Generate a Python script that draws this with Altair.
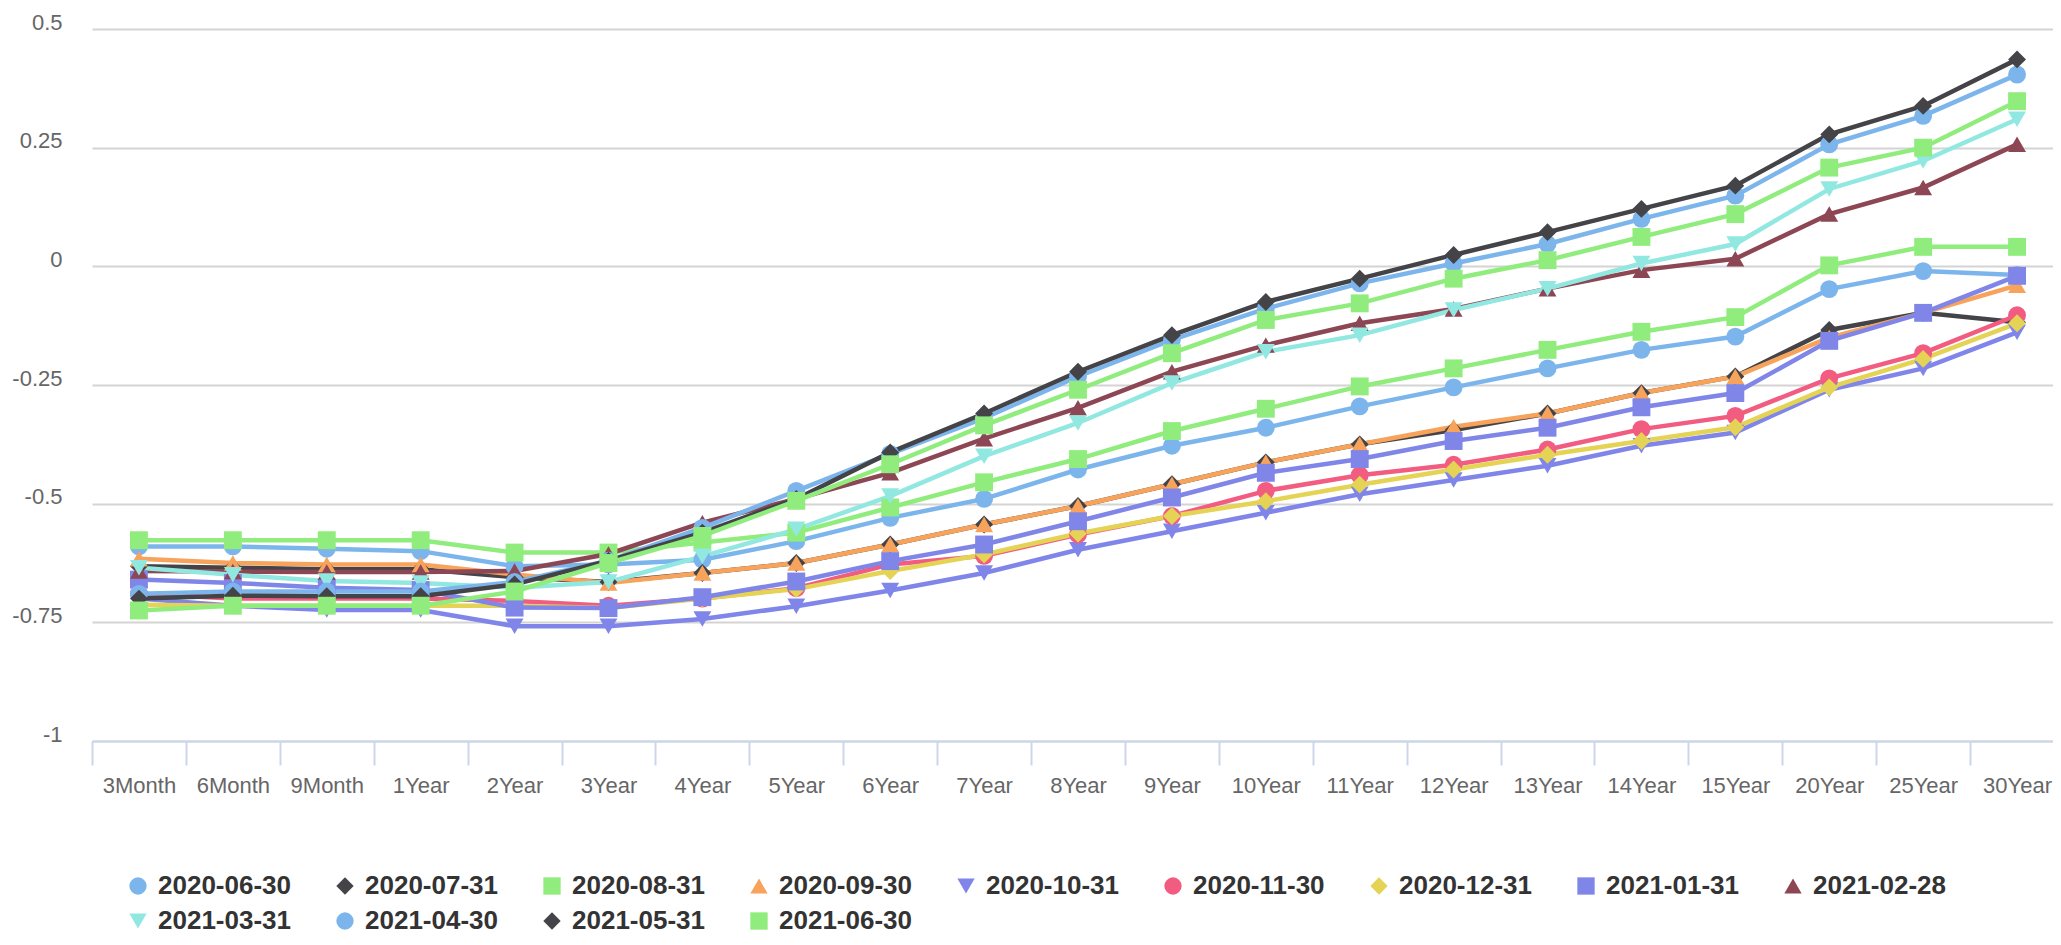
import altair as alt
import pandas as pd

tenors = ["3Month", "6Month", "9Month", "1Year", "2Year", "3Year", "4Year", "5Year",
          "6Year", "7Year", "8Year", "9Year", "10Year", "11Year", "12Year", "13Year",
          "14Year", "15Year", "20Year", "25Year", "30Year"]

dates = ["2020-06-30", "2020-07-31", "2020-08-31", "2020-09-30", "2020-10-31",
         "2020-11-30", "2020-12-31", "2021-01-31", "2021-02-28", "2021-03-31",
         "2021-04-30", "2021-05-31", "2021-06-30"]

colors = ["#7cb5ec", "#434348", "#90ed7d", "#f7a35c", "#8085e9", "#f15c80", "#e4d354",
          "#8085e8", "#8d4653", "#91e8e1", "#7cb5ec", "#434348", "#90ed7d"]

shapes = ["circle", "diamond", "square", "triangle-up", "triangle-down",
          "circle", "diamond", "square", "triangle-up", "triangle-down",
          "circle", "diamond", "square"]

y_2020_06_30 = [-0.59, -0.59, -0.595, -0.60, -0.632, -0.628, -0.618, -0.579, -0.53, -0.49,
                -0.428, -0.378, -0.34, -0.295, -0.255, -0.215, -0.176, -0.148, -0.048, -0.01, -0.018]
y_2020_07_31 = [-0.632, -0.635, -0.638, -0.638, -0.655, -0.665, -0.646, -0.625, -0.586, -0.544,
                -0.505, -0.459, -0.413, -0.375, -0.345, -0.31, -0.267, -0.232, -0.134, -0.098, -0.118]
y_2020_08_31 = [-0.577, -0.577, -0.577, -0.577, -0.603, -0.603, -0.582, -0.561, -0.508, -0.455,
                -0.406, -0.347, -0.30, -0.253, -0.215, -0.176, -0.138, -0.107, 0.002, 0.041, 0.041]
y_2020_09_30 = [-0.616, -0.625, -0.628, -0.628, -0.649, -0.667, -0.646, -0.625, -0.586, -0.544,
                -0.505, -0.459, -0.413, -0.375, -0.338, -0.31, -0.267, -0.232, -0.15, -0.098, -0.04]
y_2020_10_31 = [-0.70, -0.715, -0.724, -0.724, -0.758, -0.758, -0.743, -0.716, -0.683, -0.646,
                -0.597, -0.558, -0.519, -0.48, -0.45, -0.42, -0.378, -0.35, -0.26, -0.215, -0.139]
y_2020_11_30 = [-0.69, -0.70, -0.70, -0.70, -0.705, -0.715, -0.70, -0.678, -0.628, -0.61,
                -0.565, -0.526, -0.473, -0.44, -0.418, -0.386, -0.343, -0.315, -0.236, -0.183, -0.103]
y_2020_12_31 = [-0.713, -0.715, -0.715, -0.715, -0.715, -0.72, -0.70, -0.68, -0.642, -0.607,
                -0.563, -0.526, -0.495, -0.46, -0.428, -0.397, -0.368, -0.339, -0.255, -0.195, -0.12]
y_2021_01_31 = [-0.66, -0.667, -0.677, -0.682, -0.719, -0.72, -0.697, -0.664, -0.621, -0.586,
                -0.537, -0.487, -0.435, -0.406, -0.368, -0.34, -0.297, -0.267, -0.157, -0.098, -0.02]
y_2021_02_28 = [-0.642, -0.643, -0.644, -0.644, -0.642, -0.606, -0.54, -0.49, -0.435, -0.363,
                -0.298, -0.222, -0.166, -0.12, -0.09, -0.047, -0.008, 0.016, 0.11, 0.166, 0.257]
y_2021_03_31 = [-0.635, -0.65, -0.663, -0.667, -0.677, -0.665, -0.611, -0.554, -0.484, -0.40,
                -0.33, -0.246, -0.18, -0.145, -0.092, -0.047, 0.006, 0.047, 0.163, 0.222, 0.31]
y_2021_04_30 = [-0.69, -0.685, -0.685, -0.685, -0.665, -0.62, -0.551, -0.473, -0.395, -0.32,
                -0.232, -0.155, -0.089, -0.036, 0.006, 0.047, 0.10, 0.149, 0.257, 0.317, 0.404]
y_2021_05_31 = [-0.70, -0.694, -0.695, -0.695, -0.67, -0.62, -0.561, -0.49, -0.392, -0.31,
                -0.222, -0.145, -0.075, -0.026, 0.024, 0.072, 0.121, 0.17, 0.278, 0.338, 0.436]
y_2021_06_30 = [-0.725, -0.715, -0.715, -0.715, -0.685, -0.625, -0.568, -0.494, -0.417, -0.335,
                -0.26, -0.183, -0.113, -0.078, -0.026, 0.013, 0.062, 0.11, 0.208, 0.25, 0.348]

series = [y_2020_06_30, y_2020_07_31, y_2020_08_31, y_2020_09_30, y_2020_10_31,
          y_2020_11_30, y_2020_12_31, y_2021_01_31, y_2021_02_28, y_2021_03_31,
          y_2021_04_30, y_2021_05_31, y_2021_06_30]

y_ticks = [-1, -0.75, -0.5, -0.25, 0, 0.25, 0.5]

rows = []
for d, vals in zip(dates, series):
    for t, v in zip(tenors, vals):
        rows.append({"date": d, "tenor": t, "value": v})
df = pd.DataFrame(rows)

FONT = "Liberation Sans"

x_enc = alt.X(
    "tenor:N", sort=tenors, title=None,
    scale=alt.Scale(type="band", paddingInner=0, paddingOuter=0, range=[0, 1972]),
    axis=alt.Axis(
        tickBand="extent", grid=False, labelAngle=0,
        domainColor="#ccd6eb", domainWidth=2,
        tickColor="#ccd6eb", tickWidth=2, tickSize=24,
        labelFont=FONT, labelFontSize=22, labelColor="#666666",
        labelPadding=10, labelOverlap=False,
    ),
)
y_enc = alt.Y(
    "value:Q", title=None,
    scale=alt.Scale(domain=[-1, 0.5], nice=False, zero=False),
    axis=alt.Axis(
        values=y_ticks, labelExpr="datum.value + ''",
        domain=False, ticks=False, grid=True,
        gridColor="#d4d4d4", gridWidth=2,
        labelFont=FONT, labelFontSize=22, labelColor="#666666",
        labelPadding=30, labelOffset=-7,
    ),
)
color_scale = alt.Scale(domain=dates, range=colors)
shape_scale = alt.Scale(domain=dates, range=shapes)

legend = alt.Legend(
    title=None, orient="none", legendX=33, legendY=844,
    direction="horizontal", columns=9,
    labelFont=FONT, labelFontSize=26, labelFontWeight="bold", labelColor="#333333",
    labelOffset=7, symbolSize=300, symbolStrokeWidth=0,
    columnPadding=41, rowPadding=9, padding=0,
)

base = alt.Chart(df)

lines = base.mark_line(strokeWidth=4.5).encode(
    x=x_enc, y=y_enc,
    color=alt.Color("date:N", scale=color_scale, legend=legend),
    shape=alt.Shape("date:N", scale=shape_scale, legend=legend),
)
points = base.mark_point(filled=True, size=320, opacity=1).encode(
    x=x_enc, y=y_enc,
    color=alt.Color("date:N", scale=color_scale, legend=legend),
    shape=alt.Shape("date:N", scale=shape_scale, legend=legend),
)

chart = alt.layer(lines, points).properties(
    width=1961, height=712,
    autosize=alt.AutoSizeParams(type="none"),
    padding={"left": 84, "top": 21, "right": 0, "bottom": 196},
).configure_view(stroke=None)

chart.save("out.html", embed_options={"renderer": "svg", "actions": False})
